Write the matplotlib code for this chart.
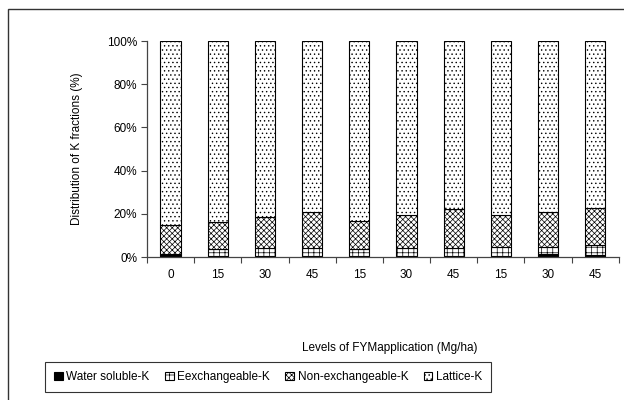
import matplotlib
matplotlib.use("Agg")
import matplotlib.pyplot as plt
from matplotlib.patches import Rectangle
import numpy as np

plt.rcParams['font.family'] = ['Liberation Sans', 'DejaVu Sans']
plt.rcParams['hatch.linewidth'] = 0.5

# levels of FYM (Mg/ha), one bar each
levels = ["0", "15", "30", "45", "15", "30", "45", "15", "30", "45"]

# % of total K in each fraction
water_soluble = [1.0, 0.4, 0.4, 0.4, 0.4, 0.4, 0.6, 0.5, 1.2, 0.8]
exchangeable = [0.3, 3.3, 3.9, 3.9, 3.3, 3.8, 3.6, 4.1, 3.4, 4.8]
non_exchangeable = [13.6, 12.3, 14.4, 16.6, 13.0, 15.3, 18.1, 14.9, 16.3, 17.3]
lattice = [100 - w - e - n for w, e, n in
           zip(water_soluble, exchangeable, non_exchangeable)]

series = [
    ("Water soluble-K", water_soluble, "black", ""),
    ("Eexchangeable-K", exchangeable, "white", "+++"),
    ("Non-exchangeable-K", non_exchangeable, "white", "xxxxxx"),
    ("Lattice-K", lattice, "white", "...."),
]

fs = 8.5

fig = plt.figure(figsize=(6.24, 4.0), dpi=100)
ax = fig.add_axes([0.2356, 0.3575, 0.756, 0.54])

x = np.arange(len(levels))
bottom = np.zeros(len(levels))
for name, vals, fc, hatch in series:
    ax.bar(x, vals, bottom=bottom, width=0.43, color=fc, edgecolor="black",
           hatch=hatch, linewidth=0.8, label=name)
    bottom += np.array(vals)

ax.set_xlim(-0.5, len(levels) - 0.5)
ax.set_ylim(0, 100)
ax.set_yticks([0, 20, 40, 60, 80, 100])
ax.set_yticklabels([f"{v}%" for v in [0, 20, 40, 60, 80, 100]], fontsize=fs)

# ticks between categories, labels under the bars
ax.set_xticks(np.arange(len(levels) + 1) - 0.5)
ax.set_xticklabels([])
ax.set_xticks(x, minor=True)
ax.set_xticklabels(levels, minor=True, fontsize=fs)
ax.tick_params(axis="x", which="major", length=4, direction="out", color="#444444")
ax.tick_params(axis="x", which="minor", length=0, pad=9)
ax.tick_params(axis="y", length=4, color="#444444", pad=3)

for s in ["top", "right"]:
    ax.spines[s].set_visible(False)
for s in ["left", "bottom"]:
    ax.spines[s].set_color("#444444")
    ax.spines[s].set_linewidth(0.9)

ax.set_ylabel("Distribution of K fractions (%)", fontsize=fs)
ax.yaxis.set_label_coords(-64 / 472, 0.5)
fig.text(0.625, 1 - 348 / 400, "Levels of FYMapplication (Mg/ha)", fontsize=fs,
         ha="center", va="center")

leg = fig.legend(loc="center", bbox_to_anchor=(268 / 624, 1 - 377 / 400), ncol=4,
                 fontsize=fs, frameon=True, fancybox=False, edgecolor="black",
                 handlelength=0.75, handleheight=0.75, handletextpad=0.3,
                 columnspacing=1.3, borderpad=0.75)
leg.get_frame().set_linewidth(0.8)

# outer frame of the figure (right and bottom edges fall outside the image)
fig.patches.append(Rectangle((8 / 624, -0.1), 1.2, 1.1 - 9 / 400,
                             transform=fig.transFigure, fill=False,
                             edgecolor="#333333", linewidth=1.0))

fig.savefig("out.png", dpi=100)
